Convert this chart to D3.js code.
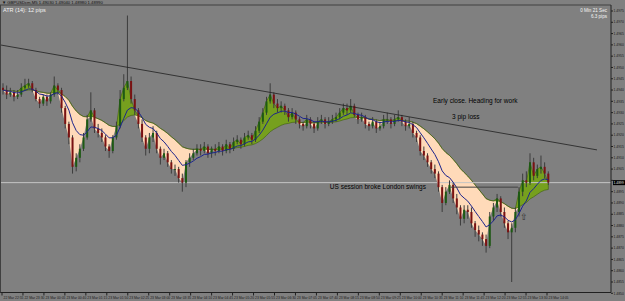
<!DOCTYPE html>
<html>
<head>
<meta charset="utf-8">
<script src="https://cdn.jsdelivr.net/npm/d3@7/dist/d3.min.js"></script>
<style>
  body { margin: 0; background: #808080; }
  svg { display: block; font-family: 'Liberation Sans', Arial, sans-serif; }
</style>
</head>
<body>
<svg id="chart" width="625" height="301"></svg>
<script>
// ===== data (GBPUSDcm M5) =====
var firstOpen = 1.4941
var closes = [1.4940, 1.4938, 1.4939, 1.4937, 1.4938, 1.4941, 1.4942, 1.4943, 1.4940, 1.4936,
  1.4934, 1.4937, 1.4935, 1.4938, 1.4942, 1.4940, 1.4932, 1.4925, 1.4919, 1.4906,
  1.4910, 1.4914, 1.4919, 1.4927, 1.4931, 1.4923, 1.4921, 1.4919, 1.4915, 1.4913,
  1.4919, 1.4924, 1.4936, 1.4941, 1.4944, 1.4936, 1.4931, 1.4925, 1.4919, 1.4914,
  1.4919, 1.4921, 1.4914, 1.4910, 1.4912, 1.4908, 1.4905, 1.4905, 1.4901, 1.4899,
  1.4908, 1.4910, 1.4912, 1.4914, 1.4913, 1.4915, 1.4912, 1.4914, 1.4913, 1.4915,
  1.4913, 1.4916, 1.4914, 1.4917, 1.4918, 1.4916, 1.4919, 1.4920, 1.4918, 1.4922,
  1.4926, 1.4930, 1.4935, 1.4938, 1.4934, 1.4932, 1.4933, 1.4931, 1.4928, 1.4930,
  1.4927, 1.4925, 1.4924, 1.4927, 1.4925, 1.4923, 1.4926, 1.4927, 1.4925, 1.4926,
  1.4927, 1.4928, 1.4930, 1.4932, 1.4931, 1.4933, 1.4929, 1.4927, 1.4928, 1.4925,
  1.4924, 1.4926, 1.4923, 1.4924, 1.4927, 1.4927, 1.4925, 1.4927, 1.4928, 1.4926,
  1.4924, 1.4925, 1.4921, 1.4919, 1.4913, 1.4911, 1.4908, 1.4905, 1.4903, 1.4897,
  1.4890, 1.4895, 1.4898, 1.4892, 1.4888, 1.4883, 1.4887, 1.4886, 1.4881, 1.4878,
  1.4876, 1.4874, 1.4871, 1.4884, 1.4888, 1.4892, 1.4886, 1.4881, 1.4877, 1.4879,
  1.4886, 1.4895, 1.4900, 1.4899, 1.4908, 1.4902, 1.4905, 1.4906, 1.4903, 1.4899]
var highs = [1.4943, 1.4942, 1.4941, 1.4940, 1.4940, 1.4943, 1.4945, 1.4945, 1.4944, 1.4941,
  1.4937, 1.4938, 1.4938, 1.4939, 1.4946, 1.4943, 1.4941, 1.4933, 1.4926, 1.4920,
  1.4912, 1.4916, 1.4921, 1.4929, 1.4939, 1.4932, 1.4925, 1.4923, 1.4920, 1.4916,
  1.4920, 1.4926, 1.4940, 1.4947, 1.4973, 1.4946, 1.4938, 1.4932, 1.4927, 1.4920,
  1.4921, 1.4924, 1.4922, 1.4915, 1.4914, 1.4913, 1.4909, 1.4907, 1.4906, 1.4903,
  1.4909, 1.4912, 1.4914, 1.4916, 1.4916, 1.4917, 1.4916, 1.4915, 1.4916, 1.4917,
  1.4916, 1.4918, 1.4917, 1.4919, 1.4920, 1.4919, 1.4921, 1.4922, 1.4921, 1.4924,
  1.4928, 1.4932, 1.4937, 1.4943, 1.4939, 1.4936, 1.4935, 1.4934, 1.4932, 1.4932,
  1.4931, 1.4928, 1.4926, 1.4929, 1.4928, 1.4926, 1.4928, 1.4929, 1.4928, 1.4928,
  1.4929, 1.4930, 1.4932, 1.4934, 1.4934, 1.4936, 1.4934, 1.4930, 1.4930, 1.4929,
  1.4926, 1.4928, 1.4927, 1.4926, 1.4929, 1.4930, 1.4928, 1.4929, 1.4931, 1.4929,
  1.4927, 1.4928, 1.4926, 1.4922, 1.4920, 1.4915, 1.4912, 1.4909, 1.4907, 1.4904,
  1.4898, 1.4897, 1.4900, 1.4899, 1.4894, 1.4889, 1.4889, 1.4889, 1.4888, 1.4882,
  1.4880, 1.4877, 1.4876, 1.4886, 1.4890, 1.4894, 1.4893, 1.4888, 1.4882, 1.4881,
  1.4888, 1.4897, 1.4903, 1.4904, 1.4912, 1.4910, 1.4907, 1.4911, 1.4908, 1.4904]
var lows = [1.4938, 1.4936, 1.4937, 1.4935, 1.4936, 1.4937, 1.4940, 1.4941, 1.4939, 1.4935,
  1.4932, 1.4933, 1.4933, 1.4934, 1.4937, 1.4938, 1.4930, 1.4923, 1.4916, 1.4903,
  1.4904, 1.4908, 1.4913, 1.4918, 1.4926, 1.4921, 1.4919, 1.4917, 1.4913, 1.4910,
  1.4912, 1.4918, 1.4923, 1.4935, 1.4940, 1.4934, 1.4929, 1.4923, 1.4917, 1.4911,
  1.4912, 1.4917, 1.4912, 1.4907, 1.4909, 1.4906, 1.4903, 1.4902, 1.4899, 1.4895,
  1.4897, 1.4906, 1.4909, 1.4911, 1.4911, 1.4912, 1.4910, 1.4910, 1.4911, 1.4912,
  1.4911, 1.4912, 1.4912, 1.4913, 1.4916, 1.4914, 1.4915, 1.4918, 1.4916, 1.4917,
  1.4921, 1.4925, 1.4929, 1.4934, 1.4932, 1.4930, 1.4930, 1.4929, 1.4926, 1.4927,
  1.4925, 1.4923, 1.4922, 1.4923, 1.4923, 1.4921, 1.4922, 1.4925, 1.4923, 1.4924,
  1.4925, 1.4926, 1.4927, 1.4929, 1.4929, 1.4930, 1.4928, 1.4925, 1.4926, 1.4923,
  1.4922, 1.4923, 1.4921, 1.4922, 1.4923, 1.4925, 1.4923, 1.4924, 1.4926, 1.4924,
  1.4922, 1.4923, 1.4919, 1.4917, 1.4911, 1.4909, 1.4906, 1.4903, 1.4901, 1.4895,
  1.4886, 1.4889, 1.4894, 1.4890, 1.4885, 1.4880, 1.4881, 1.4883, 1.4879, 1.4875,
  1.4873, 1.4871, 1.4868, 1.4870, 1.4882, 1.4886, 1.4884, 1.4879, 1.4874, 1.4855,
  1.4877, 1.4884, 1.4893, 1.4897, 1.4898, 1.4900, 1.4901, 1.4903, 1.4901, 1.4898]

var priceTicks = [1.4975, 1.4970, 1.4965, 1.4960, 1.4955, 1.4950, 1.4945, 1.4940, 1.4935,
  1.4930, 1.4925, 1.4920, 1.4915, 1.4910, 1.4905, 1.4900, 1.4895, 1.4890, 1.4885,
  1.4880, 1.4875, 1.4870, 1.4865, 1.4860, 1.4855, 1.4850]
var timeLabels = ['22 Mar 22:55', '22 Mar 23:30', '23 Mar 00:05', '23 Mar 00:40', '23 Mar 01:15',
  '23 Mar 01:50', '23 Mar 02:25', '23 Mar 03:00', '23 Mar 03:35', '23 Mar 04:10', '23 Mar 04:45',
  '23 Mar 05:20', '23 Mar 05:55', '23 Mar 06:30', '23 Mar 07:05', '23 Mar 07:40', '23 Mar 08:15',
  '23 Mar 08:50', '23 Mar 09:25', '23 Mar 10:00', '23 Mar 10:35', '23 Mar 11:10', '23 Mar 11:45',
  '23 Mar 12:20', '23 Mar 12:55', '23 Mar 13:30', '23 Mar 14:05']

// trendline + london swing line, [bar, price]
var trendLine = [[-0.8, 1.4960], [162.3, 1.49135]]
var swingLine = [[122.2, 1.4897], [140.7, 1.4897]]
var notes = [
  { text: 'Early close. Heading for work', bar: 117.5, price: 1.49343 },
  { text: '3 pip loss', bar: 122.7, price: 1.49272 },
  { text: 'US session broke London swings', bar: 89.3, price: 1.48960 }
]

// ===== scales =====
var svg = d3.select('#chart')
var plotRight = 611
var plotTop = 5
var plotBottom = 292.5

var x = d3.scaleLinear().domain([0, closes.length - 1]).range([3, 548.3])
var y = d3.scaleLinear().domain([1.4850, 1.4975]).range([293.3, 11])

var bars = closes.map(function (c, i) {
  return { i: i, o: i ? closes[i - 1] : firstOpen, h: highs[i], l: lows[i], c: c }
})

function ema (arr, n) {
  var k = 2 / (n + 1)
  var out = []
  arr.forEach(function (v, i) {
    out.push(i ? out[i - 1] + k * (v - out[i - 1]) : v)
  })
  return out
}
var slow = ema(closes, 21)
var fast = ema(closes, 8)

svg.append('rect').attr('width', 625).attr('height', 301).attr('fill', '#808080')

// ===== fill between close and slow ma =====
var g = svg.append('g')
g.append('path')
  .datum(bars)
  .attr('fill', '#ffdab9')
  .attr('d', d3.area()
    .x(function (d) { return x(d.i) })
    .y0(function (d) { return y(slow[d.i]) })
    .y1(function (d) { return y(Math.min(d.c, slow[d.i])) }))
g.append('path')
  .datum(bars)
  .attr('fill', '#76a01e')
  .attr('stroke', '#3d5e0c')
  .attr('stroke-width', 0.6)
  .attr('d', d3.area()
    .x(function (d) { return x(d.i) })
    .y0(function (d) { return y(slow[d.i]) })
    .y1(function (d) { return y(Math.max(d.c, slow[d.i])) }))

// bid line
var last = closes[closes.length - 1]
svg.append('line')
  .attr('x1', 0).attr('x2', plotRight)
  .attr('y1', y(last)).attr('y2', y(last))
  .attr('stroke', '#c4c4c4').attr('stroke-width', 1)

// ===== candles =====
var candle = svg.append('g').selectAll('g').data(bars).enter().append('g')
candle.append('line')
  .attr('x1', function (d) { return x(d.i) }).attr('x2', function (d) { return x(d.i) })
  .attr('y1', function (d) { return y(d.h) }).attr('y2', function (d) { return y(d.l) })
  .attr('stroke', '#3c3c3c').attr('stroke-width', 1)
candle.append('rect')
  .attr('x', function (d) { return x(d.i) - 1 })
  .attr('width', 2)
  .attr('y', function (d) { return y(Math.max(d.o, d.c)) })
  .attr('height', function (d) { return Math.max(1, Math.abs(y(d.o) - y(d.c))) })
  .attr('fill', function (d) { return d.c >= d.o ? '#1d5a12' : '#7a1212' })

// fast ma
svg.append('path')
  .datum(fast)
  .attr('fill', 'none')
  .attr('stroke', '#1c248c')
  .attr('stroke-width', 1)
  .attr('d', d3.line().x(function (d, i) { return x(i) }).y(function (d) { return y(d) }))

// drawn lines
svg.append('line')
  .attr('x1', x(trendLine[0][0])).attr('y1', y(trendLine[0][1]))
  .attr('x2', x(trendLine[1][0])).attr('y2', y(trendLine[1][1]))
  .attr('stroke', '#202020').attr('stroke-width', 0.8)
svg.append('line')
  .attr('x1', x(swingLine[0][0])).attr('y1', y(swingLine[0][1]))
  .attr('x2', x(swingLine[1][0])).attr('y2', y(swingLine[1][1]))
  .attr('stroke', '#404040').attr('stroke-width', 1)

// notes
svg.selectAll('text.note').data(notes).enter().append('text')
  .attr('class', 'note')
  .attr('x', function (d) { return x(d.bar) })
  .attr('y', function (d) { return y(d.price) })
  .attr('font-size', 6.5)
  .attr('fill', '#000')
  .text(function (d) { return d.text })
svg.append('text')
  .attr('x', x(142.3)).attr('y', y(1.48825))
  .attr('font-size', 9).attr('text-anchor', 'middle').attr('fill', '#303030')
  .text('⇧')

// ===== frame + axes =====
svg.append('line').attr('x1', 0).attr('x2', plotRight).attr('y1', plotTop).attr('y2', plotTop)
  .attr('stroke', '#404040')
svg.append('line').attr('x1', plotRight).attr('x2', plotRight).attr('y1', plotTop).attr('y2', plotBottom)
  .attr('stroke', '#202020')
svg.append('line').attr('x1', 0).attr('x2', plotRight).attr('y1', plotBottom).attr('y2', plotBottom)
  .attr('stroke', '#202020')
svg.append('line').attr('x1', 0.5).attr('x2', 0.5).attr('y1', plotTop).attr('y2', plotBottom)
  .attr('stroke', '#404040')

var yAxis = svg.append('g').selectAll('g').data(priceTicks).enter().append('g')
  .attr('transform', function (d) { return 'translate(' + plotRight + ',' + y(d) + ')' })
yAxis.append('line').attr('x2', 2).attr('stroke', '#202020')
// hide the tick label that sits under the current price box
yAxis.filter(function (d) { return Math.abs(y(d) - y(last)) > 5 })
  .append('text').attr('x', 2.5).attr('dy', '0.35em')
  .attr('font-size', 3.4).attr('fill', '#1a1a1a')
  .text(function (d) { return d.toFixed(4) })

// current price box
svg.append('rect').attr('x', plotRight + 2).attr('y', y(last) - 2.5).attr('width', 12).attr('height', 5)
  .attr('fill', '#000')
svg.append('text').attr('x', plotRight + 2.5).attr('y', y(last)).attr('dy', '0.35em')
  .attr('font-size', 3.4).attr('fill', '#e0e0e0').text(last.toFixed(4))

var xTime = d3.scalePoint().domain(timeLabels).range([2, 547])
var xAxis = svg.append('g').selectAll('g').data(timeLabels).enter().append('g')
  .attr('transform', function (d) { return 'translate(' + xTime(d) + ',' + plotBottom + ')' })
xAxis.append('line').attr('y2', 3).attr('stroke', '#202020')
xAxis.append('text').attr('x', 1.5).attr('y', 6)
  .attr('font-size', 3.4).attr('fill', '#1a1a1a')
  .text(function (d) { return d })

// ===== header texts =====
var b = bars[bars.length - 1]
svg.append('text').attr('x', 2).attr('y', 4.2).attr('font-size', 4.2).attr('fill', '#111')
  .text('▼ GBPUSDcm,M5  ' + [b.o, b.h, b.l, b.c].map(function (v) { return v.toFixed(5) }).join(' '))
svg.append('text').attr('x', 3).attr('y', 12).attr('font-size', 5.5).attr('fill', '#f4f4f4')
  .text('ATR (14): 12 pips')
svg.append('text').attr('x', 607).attr('y', 12).attr('font-size', 4.6).attr('fill', '#f4f4f4')
  .attr('text-anchor', 'end').text('0 Min 21 Sec')
svg.append('text').attr('x', 607).attr('y', 17.5).attr('font-size', 4.6).attr('fill', '#f4f4f4')
  .attr('text-anchor', 'end').text('6.3 pips')
</script>
</body>
</html>
